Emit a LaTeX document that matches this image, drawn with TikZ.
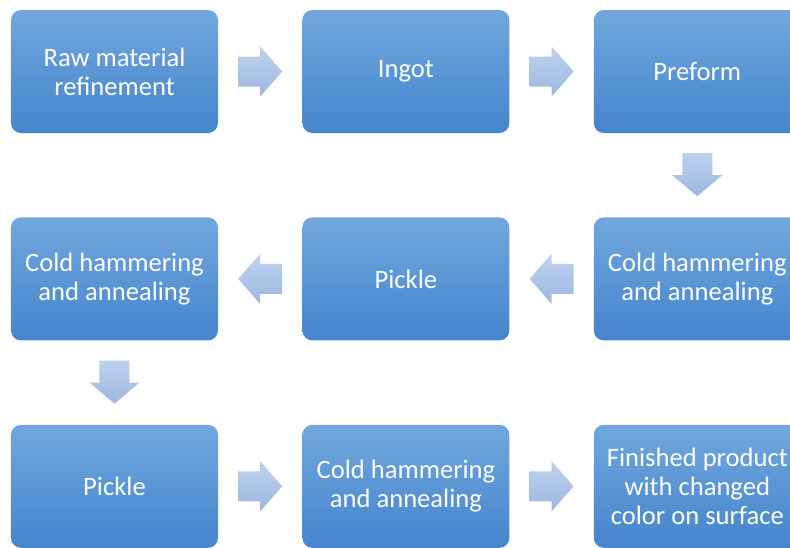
\documentclass[tikz,border=0pt]{standalone}
\usepackage{fontspec}
\setmainfont{Carlito}
\usetikzlibrary{positioning,calc}
\definecolor{StepTop}{HTML}{71A7DD}
\definecolor{StepBottom}{HTML}{4585CD}
\definecolor{ArrowTop}{HTML}{BED2EE}
\definecolor{ArrowBottom}{HTML}{9CB7DF}

\tikzset{
  stepbox/.style={rounded corners=10pt, top color=StepTop, bottom color=StepBottom,
    text=white, minimum width=207pt, minimum height=123pt, inner sep=0pt,
    align=center, font=\fontsize{26.6}{28.8}\selectfont},
  blockarrow/.style={top color=ArrowTop, bottom color=ArrowBottom, draw=none}
}

% block arrows between two boxes
\newcommand{\arrowright}[2]{\path[blockarrow] ($(#1.east)!.5!(#2.west)$) ++(-22pt,15pt)
  -- ++(22pt,0pt) -- ++(0pt,10pt) -- ++(22pt,-25pt) -- ++(-22pt,-25pt)
  -- ++(0pt,10pt) -- ++(-22pt,0pt) -- cycle;}
\newcommand{\arrowleft}[2]{\path[blockarrow] ($(#1.west)!.5!(#2.east)$) ++(22pt,15pt)
  -- ++(-22pt,0pt) -- ++(0pt,10pt) -- ++(-22pt,-25pt) -- ++(22pt,-25pt)
  -- ++(0pt,10pt) -- ++(22pt,0pt) -- cycle;}
\newcommand{\arrowdown}[2]{\path[blockarrow] ($(#1.south)!.5!(#2.north)$) ++(-15pt,22pt)
  -- ++(0pt,-22pt) -- ++(-10pt,0pt) -- ++(25pt,-21pt) -- ++(25pt,21pt)
  -- ++(-10pt,0pt) -- ++(0pt,22pt) -- cycle;}

\begin{document}
\begin{tikzpicture}[node distance=84pt]
  \path[use as bounding box, clip] (-114.5pt,71.5pt) rectangle (675.5pt,-475.5pt);

  \node[stepbox] (raw) {Raw material\\refinement};
  \node[stepbox, right=of raw] (ingot) {Ingot};
  \node[stepbox, right=of ingot] (preform) {Preform};
  \node[stepbox, below=of preform] (cold1) {Cold hammering\\and annealing};
  \node[stepbox, left=of cold1] (pickle1) {Pickle};
  \node[stepbox, left=of pickle1] (cold2) {Cold hammering\\and annealing};
  \node[stepbox, below=of cold2] (pickle2) {Pickle};
  \node[stepbox, right=of pickle2] (cold3) {Cold hammering\\and annealing};
  \node[stepbox, right=of cold3] (finished) {Finished product\\with changed\\color on surface};

  \arrowright{raw}{ingot}
  \arrowright{ingot}{preform}
  \arrowdown{preform}{cold1}
  \arrowleft{cold1}{pickle1}
  \arrowleft{pickle1}{cold2}
  \arrowdown{cold2}{pickle2}
  \arrowright{pickle2}{cold3}
  \arrowright{cold3}{finished}
\end{tikzpicture}
\end{document}
